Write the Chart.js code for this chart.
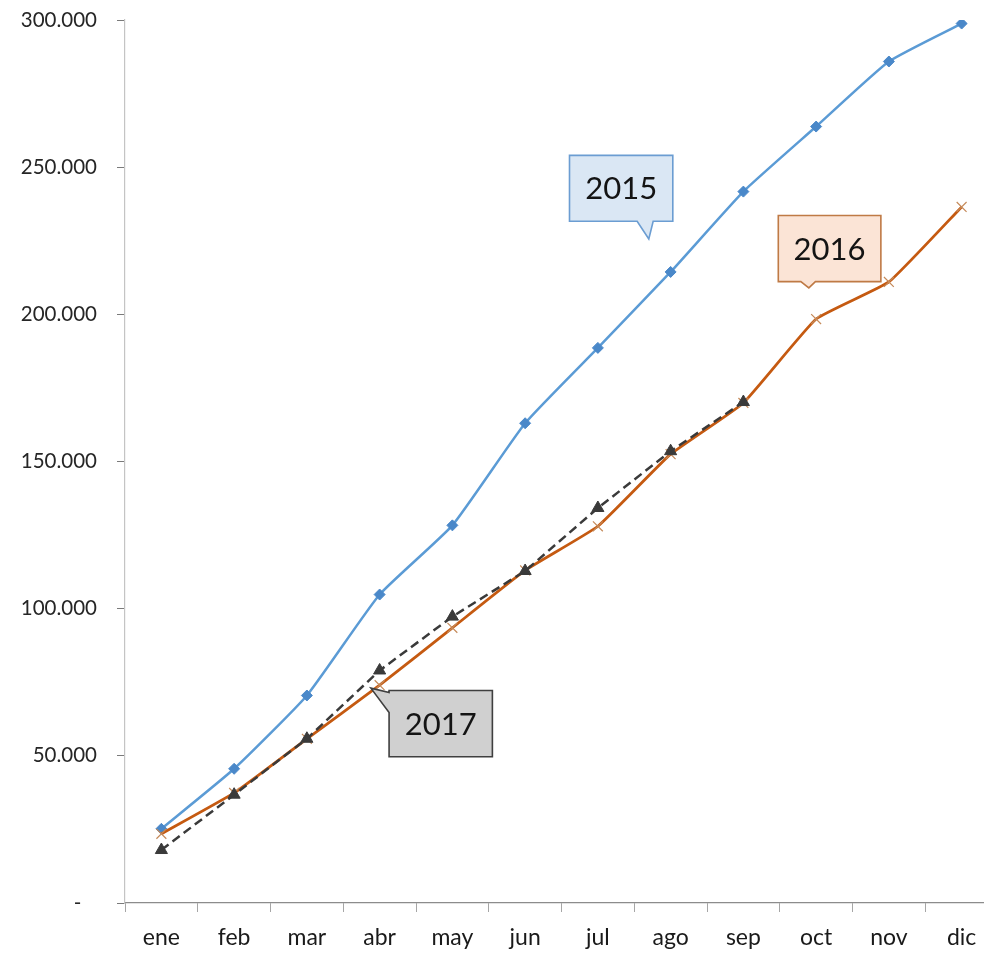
<!DOCTYPE html>
<html>
<head>
<meta charset="utf-8">
<script src="https://cdn.jsdelivr.net/npm/chart.js@4.4.1/dist/chart.umd.min.js"></script>
<style>
  html, body { margin: 0; padding: 0; background: #ffffff; overflow: hidden; }
  #wrap { width: 1000px; height: 954px; }
</style>
</head>
<body>
<div id="wrap"><canvas id="c" width="1000" height="954"></canvas></div>
<script>
const months = ['ene','feb','mar','abr','may','jun','jul','ago','sep','oct','nov','dic'];
const y2015 = [25200, 45600, 70500, 104800, 128300, 163000, 188600, 214400, 241700, 263800, 285900, 298800];
const y2016 = [23500, 37400, 55800, 74000, 93500, 113000, 128000, 152500, 169900, 198400, 211000, 236500];
const y2017 = [18000, 36800, 55800, 79000, 97300, 112800, 134200, 153500, 170200, null, null, null];
const yTicks = [0, 50000, 100000, 150000, 200000, 250000, 300000];

const FONT = 'Lato, "Open Sans", "DejaVu Sans", sans-serif';

function fmt(v) {
  if (v === 0) return '-   ';
  return String(v).replace(/\B(?=(\d{3})+(?!\d))/g, '.');
}

// Callout annotations, anchored in data units (category index, value)
const callouts = [
  { text: '2015', fill: '#dae7f4', stroke: '#6b9dd2', box: [5.61, 7.03, 254000, 231600], tail: 'bottom', base: [6.54, 6.76], tip: [6.70, 225600] },
  { text: '2016', fill: '#fbe4d6', stroke: '#bf7a45', box: [8.48, 9.89, 233600, 211100], tail: 'bottom', base: [8.79, 8.99], tip: [8.90, 209000] },
  { text: '2017', fill: '#d0d0d0', stroke: '#3f3f3f', box: [3.13, 4.55, 72200, 49700], tail: 'left', base: [71500, 64700], tip: [2.88, 73000] }
];

const calloutPlugin = {
  id: 'callouts',
  afterDatasetsDraw(chart) {
    const ctx = chart.ctx;
    const xs = chart.scales.x, ys = chart.scales.y;
    const px = i => xs.getPixelForValue(i);
    const py = v => ys.getPixelForValue(v);
    callouts.forEach(c => {
      const l = px(c.box[0]), r = px(c.box[1]), t = py(c.box[2]), b = py(c.box[3]);
      const tx = px(c.tip[0]), ty = py(c.tip[1]);
      ctx.save();
      ctx.beginPath();
      ctx.moveTo(l, t);
      ctx.lineTo(r, t);
      ctx.lineTo(r, b);
      if (c.tail === 'bottom') {
        const bl = px(c.base[0]), br = px(c.base[1]);
        ctx.lineTo(br, b);
        ctx.lineTo(tx, ty);
        ctx.lineTo(bl, b);
        ctx.lineTo(l, b);
      } else {
        ctx.lineTo(l, b);
        ctx.lineTo(l, py(c.base[1]));
        ctx.lineTo(tx, ty);
        ctx.lineTo(l, py(c.base[0]));
      }
      ctx.closePath();
      ctx.fillStyle = c.fill;
      ctx.fill();
      ctx.lineWidth = 1.6;
      ctx.strokeStyle = c.stroke;
      ctx.lineJoin = 'miter';
      ctx.stroke();
      ctx.fillStyle = '#141414';
      ctx.font = '31px ' + FONT;
      ctx.textAlign = 'center';
      ctx.textBaseline = 'middle';
      ctx.fillText(c.text, (l + r) / 2, (t + b) / 2 + 1);
      ctx.restore();
    });
  }
};

new Chart(document.getElementById('c'), {
  type: 'line',
  data: {
    labels: months,
    datasets: [
      {
        label: '2015', data: y2015, order: 2,
        borderColor: '#5b9bd5', borderWidth: 2.5, tension: 0.15,
        pointStyle: 'rectRot', pointRadius: 5.5, pointBackgroundColor: '#4a88c9', pointBorderColor: '#4a88c9', pointBorderWidth: 1
      },
      {
        label: '2016', data: y2016, order: 1,
        borderColor: '#c55a11', borderWidth: 2.8, tension: 0.12,
        pointStyle: 'crossRot', pointRadius: 7, pointBorderColor: '#c58a5a', pointBackgroundColor: '#c58a5a', pointBorderWidth: 1.2
      },
      {
        label: '2017', data: y2017, order: 0,
        borderColor: '#3a3a3a', borderWidth: 2.5, borderDash: [9, 5], tension: 0,
        pointStyle: 'triangle', pointRadius: 7, pointBackgroundColor: '#3a3a3a', pointBorderColor: '#3a3a3a', pointBorderWidth: 1,
        spanGaps: false
      }
    ]
  },
  options: {
    responsive: false,
    animation: false,
    events: [],
    layout: { autoPadding: false, padding: { top: 20, right: 2, left: 0, bottom: 0 } },
    plugins: { legend: { display: false }, tooltip: { enabled: false } },
    scales: {
      x: {
        offset: true,
        grid: { offset: true, drawOnChartArea: false, drawTicks: true, tickLength: 9, color: '#a6a6a6', tickColor: '#a6a6a6' },
        border: { display: true, color: '#8c8c8c', width: 1.2 },
        ticks: { color: '#1a1a1a', font: { family: FONT, size: 23 }, padding: 12, maxRotation: 0, autoSkip: false },
        afterFit(s) { s.height = 51; s.paddingLeft = 0; s.paddingRight = 0; }
      },
      y: {
        min: 0, max: 300000,
        afterBuildTicks(s) { s.ticks = yTicks.map(v => ({ value: v })); },
        grid: { drawOnChartArea: false, drawTicks: true, tickLength: 8, color: '#8c8c8c', tickColor: '#7a7a7a' },
        border: { display: true, color: '#c4c4c4', width: 1.2 },
        ticks: { color: '#262626', font: { family: FONT, size: 20.5 }, padding: 20, callback: v => fmt(v) },
        afterFit(s) { s.width = 125; s.paddingTop = 0; s.paddingBottom = 0; }
      }
    }
  },
  plugins: [calloutPlugin]
});
</script>
</body>
</html>
